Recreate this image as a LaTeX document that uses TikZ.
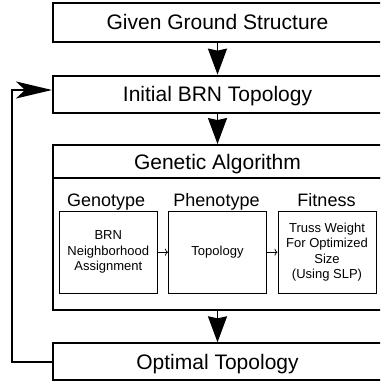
\documentclass[tikz,border=0pt]{standalone}
\usepackage{fontspec}
\setmainfont{Liberation Sans}
\usetikzlibrary{arrows.meta}
\begin{document}
\begin{tikzpicture}[x=1pt,y=-1pt,
 mainbox/.style={draw,line width=2pt,minimum width=329pt,inner sep=0pt,font=\fontsize{21}{25}\selectfont,text height=15pt,text depth=0pt},
 innerbox/.style={draw,line width=1pt,minimum width=98pt,minimum height=82pt,inner sep=0pt,align=center,font=\fontsize{13}{15.5}\selectfont},
 lab/.style={font=\fontsize{18}{21}\selectfont,anchor=base,inner sep=0pt},
 downarrow/.style={line width=1.8pt,-{Stealth[length=26pt,width=19pt,inset=2pt]}},
 fbarrow/.style={line width=1.8pt,-{Stealth[length=36pt,width=17pt,inset=9pt]}},
 smallarrow/.style={line width=0.7pt,-{To[length=3pt,width=7pt]}}
]
\useasboundingbox (0,0) rectangle (380,385);
\clip (0,0) rectangle (380,385);
\node[mainbox,minimum height=39pt] (G) at (217.5,22.5) {Given Ground Structure};
\node[mainbox,minimum height=37.3pt] (I) at (217.5,94.3) {Initial BRN Topology};
\node[mainbox,minimum height=33.3pt] (GAH) at (217.5,161.7) {Genetic Algorithm};
\node[draw,line width=2pt,minimum width=329pt,minimum height=131.7pt,inner sep=0pt] (GAB) at (217.5,244.2) {};
\node[mainbox,minimum height=36.7pt] (O) at (217.5,361.7) {Optimal Topology};
\node[lab] (lg) at (106.2,206) {Genotype};
\node[lab] (lp) at (216.5,206) {Phenotype};
\node[lab] (lf) at (326.5,206) {Fitness};
\node[innerbox] (A) at (108.3,252.2) {BRN\\Neighborhood\\Assignment};
\node[innerbox] (B) at (217.5,252.2) {Topology};
\node[innerbox] (C) at (327,252.2) {Truss Weight\\For Optimized\\Size\\(Using SLP)};
\draw[downarrow] (G) -- (I);
\draw[downarrow] (I) -- (GAH);
\draw[downarrow] (GAB) -- (O);
\draw[smallarrow] (A) -- (B);
\draw[smallarrow] (B) -- (C);
\coordinate (fb) at (11.7,90);
\draw[fbarrow] (O.west) -| (fb) -- (I.west |- fb);
\end{tikzpicture}
\end{document}
